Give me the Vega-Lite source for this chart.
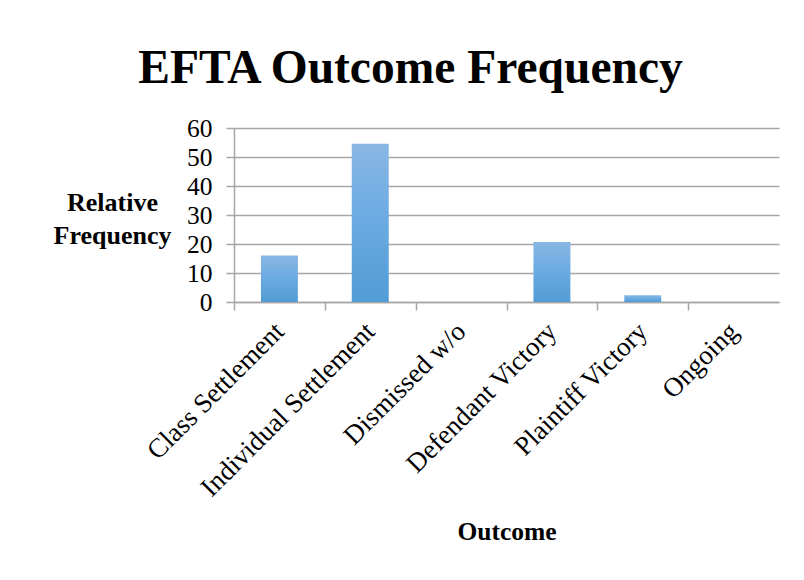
{
  "$schema": "https://vega.github.io/schema/vega-lite/v6.json",
  "width": 545,
  "height": 174,
  "autosize": {"type": "none"},
  "padding": {"left": 234, "top": 128, "right": 25, "bottom": 278},
  "background": "white",
  "title": {
    "text": "EFTA Outcome Frequency",
    "font": "Liberation Serif",
    "fontSize": 47.5,
    "fontWeight": "bold",
    "color": "black",
    "anchor": "middle",
    "dx": -96,
    "offset": 24
  },
  "data": {
    "values": [
      {"outcome": "Class Settlement", "freq": 16},
      {"outcome": "Individual Settlement", "freq": 54.6},
      {"outcome": "Dismissed w/o", "freq": 0},
      {"outcome": "Defendant Victory", "freq": 20.7},
      {"outcome": "Plaintiff Victory", "freq": 2.3},
      {"outcome": "Ongoing", "freq": 0}
    ]
  },
  "mark": {
    "type": "bar",
    "color": {
      "gradient": "linear",
      "x1": 0, "y1": 0, "x2": 0, "y2": 1,
      "stops": [
        {"offset": 0, "color": "#89b7e3"},
        {"offset": 0.5, "color": "#6aaae2"},
        {"offset": 1, "color": "#529cd5"}
      ]
    }
  },
  "encoding": {
    "x": {
      "field": "outcome",
      "type": "nominal",
      "sort": null,
      "scale": {"paddingInner": 0.593, "paddingOuter": 0.2965},
      "axis": {
        "title": "Outcome",
        "titleFont": "Liberation Serif",
        "titleFontSize": 25.5,
        "titleFontWeight": "bold",
        "titleColor": "black",
        "titleBaseline": "middle",
        "titleY": 229,
        "labelFont": "Liberation Serif",
        "labelFontSize": 27,
        "labelColor": "black",
        "labelAngle": -45,
        "labelAlign": "right",
        "labelBaseline": "middle",
        "labelPadding": 17,
        "labelOverlap": false,
        "labelLimit": 400,
        "tickOffset": -45.4,
        "labelOffset": 45.4,
        "tickSize": 8,
        "tickColor": "#a6a6a6",
        "tickWidth": 1.5,
        "domainColor": "#a6a6a6",
        "domainWidth": 1.5,
        "grid": false
      }
    },
    "y": {
      "field": "freq",
      "type": "quantitative",
      "scale": {"domain": [0, 60]},
      "axis": {
        "values": [0, 10, 20, 30, 40, 50, 60],
        "title": ["Relative", "Frequency"],
        "titleFont": "Liberation Serif",
        "titleFontSize": 26,
        "titleFontWeight": "bold",
        "titleColor": "black",
        "titleAngle": 0,
        "titleAlign": "center",
        "titleBaseline": "middle",
        "titleLineHeight": 33,
        "titleX": -122,
        "titleY": 74,
        "labelFont": "Liberation Serif",
        "labelFontSize": 25.5,
        "labelColor": "black",
        "labelPadding": 14,
        "tickSize": 8,
        "tickColor": "#a6a6a6",
        "tickWidth": 1.5,
        "domainColor": "#a6a6a6",
        "domainWidth": 1.5,
        "grid": true,
        "gridColor": "#a6a6a6",
        "gridWidth": 1.5
      }
    }
  },
  "config": {
    "view": {"stroke": null}
  }
}
